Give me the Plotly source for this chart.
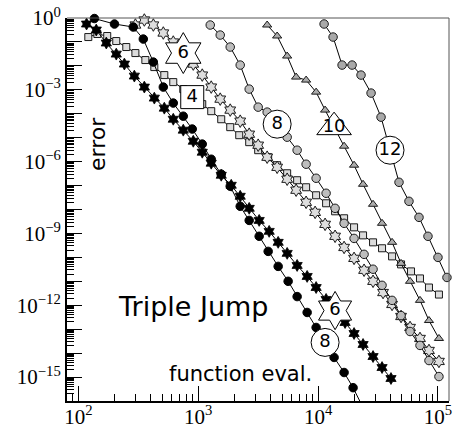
import numpy as np
import plotly.graph_objects as go

# ---- data (function evaluations vs. error) ----
# order 8, lower (black circles)
c8b_x = [136, 200, 287, 348, 422, 511, 619, 750, 891, 1080, 1283, 1555, 1848, 2239, 2661,
         3223, 3831, 4642, 5623, 6683, 8099, 9624, 11436, 13594, 16475, 19580, 23714]
c8b_y = [0.95, 0.56, 0.42, 0.132, 0.0144, 1.3e-3, 2.8e-4, 7.9e-5, 2.3e-5, 5.4e-6, 1.26e-6,
         3.0e-7, 9.4e-8, 1.36e-8, 3.5e-9, 7.6e-10, 1.78e-10, 4.2e-11, 1.0e-11, 2.3e-12,
         5.0e-13, 1.18e-13, 2.8e-14, 6.6e-15, 1.55e-15, 3.6e-16, 5.3e-17]

# order 6, lower (black stars)
s6b_x = [117, 141, 171, 207, 242, 293, 355, 430, 521, 619, 750, 909, 1080, 1283, 1555, 1884,
         2239, 2661, 3223, 3905, 4642, 5518, 6683, 8099, 9624, 11659, 13856, 16788, 19953,
         23714, 28729, 34145, 40551]
s6b_y = [0.56, 0.315, 0.090, 0.031, 0.0119, 3.74e-3, 1.3e-3, 4.5e-4, 1.71e-4, 5.9e-5, 2.06e-5,
         7.1e-6, 2.47e-6, 8.6e-7, 2.7e-7, 1.03e-7, 3.57e-8, 1.12e-8, 3.5e-9, 1.22e-9, 4.25e-10,
         1.47e-10, 4.6e-11, 1.6e-11, 5.5e-12, 1.75e-12, 6.0e-13, 1.9e-13, 6.6e-14, 2.3e-14,
         7.2e-15, 2.5e-15, 8.7e-16]

# order 4 (squares)
q4_x = [121, 144, 174, 207, 251, 299, 362, 430, 521, 619, 750, 891, 1080, 1283, 1555, 1848,
        2197, 2661, 3162, 3831, 4553, 5518, 6683, 7943, 9624, 11659, 13856, 16475, 19953,
        23714, 28729, 34145, 41400, 49204, 59560, 70795, 84140, 101900]
q4_y = [0.16, 0.214, 0.177, 0.109, 0.0612, 0.0343, 0.0175, 0.0089, 4.12e-3, 2.1e-3, 1.07e-3,
        4.95e-4, 2.52e-4, 1.28e-4, 5.9e-5, 2.75e-5, 1.27e-5, 6.5e-6, 3.0e-6, 1.53e-6, 7.1e-7,
        3.27e-7, 1.67e-7, 8.5e-8, 3.93e-8, 1.82e-8, 8.4e-9, 4.3e-9, 1.8e-9, 8.3e-10, 4.25e-10,
        2.4e-10, 1.1e-10, 5.1e-11, 2.6e-11, 1.32e-11, 5.5e-12, 2.8e-12]

# order 6, upper (light stars)
s6u_x = [299, 355, 422, 511, 619, 750, 909, 1080, 1283, 1525, 1848, 2239, 2661, 3162, 3758,
         4553, 5518, 6556, 7943, 9441, 11436, 13856, 16475, 19953, 24180, 28729, 34814, 41400,
         49204, 58480, 70795, 84140, 101900]
s6u_y = [0.509, 0.825, 0.509, 0.236, 0.099, 0.0343, 0.0119, 4.12e-3, 1.3e-3, 4.08e-4, 1.42e-4,
         4.9e-5, 1.4e-5, 4.86e-6, 1.53e-6, 5.8e-7, 1.84e-7, 6.4e-8, 2.0e-8, 7.6e-9, 2.4e-9,
         7.6e-10, 2.6e-10, 9.1e-11, 2.9e-11, 1.0e-11, 3.4e-12, 1.08e-12, 3.4e-13, 1.18e-13,
         4.1e-14, 1.29e-14, 4.5e-15]

# order 8, upper (gray circles)
c8u_x = [1259, 1525, 1848, 2239, 2661, 3162, 3758, 4553, 5518, 6683, 7943, 9624, 11659, 13856,
         16475, 19953, 24180, 28729, 34145, 41400, 49204, 58480, 70795, 84140, 101900]
c8u_y = [0.509, 0.194, 0.0612, 0.0108, 1.07e-3, 1.89e-4, 1.17e-4, 3.67e-5, 1.05e-5, 3.0e-6,
         7.8e-7, 2.02e-7, 4.77e-8, 1.12e-8, 2.65e-9, 6.2e-10, 1.34e-10, 3.2e-11, 6.8e-12,
         1.6e-12, 3.7e-13, 8.0e-14, 2.1e-14, 4.9e-15, 1.05e-15]

# order 10 (triangles)
t10_x = [3758, 4553, 5518, 6556, 7943, 9624, 11436, 13594, 16475, 19953, 23714, 28729, 34145,
         41400, 49204, 58480, 70795, 84140, 101900]
t10_y = [0.509, 0.177, 0.0257, 3.4e-3, 2.55e-3, 8.0e-4, 1.42e-4, 2.75e-5, 4.41e-6, 7.1e-7,
         1.13e-7, 1.65e-8, 2.65e-9, 4.25e-10, 5.6e-11, 1.0e-11, 1.6e-12, 2.3e-13, 4.1e-14]

# order 12 (gray circles)
c12_x = [11220, 13335, 15849, 19200, 22803, 27660, 33497, 39811, 47315, 57280, 69450, 82540,
         100000, 118850]
c12_y = [0.561, 0.16, 0.0108, 0.0108, 4.12e-3, 7.3e-4, 7.2e-5, 3.0e-6, 1.37e-7, 2.2e-8,
         4.7e-9, 7.6e-10, 1.0e-10, 1.45e-11]

# order labels
label_texts = ["6", "4", "8", "10", "12", "6", "8"]

x_tickvals = [1e2, 1e3, 1e4, 1e5]
x_ticktext = ["10<sup>2</sup>", "10<sup>3</sup>", "10<sup>4</sup>", "10<sup>5</sup>"]
y_exps = list(range(0, -17, -1))
y_label_exps = [0, -3, -6, -9, -12, -15]

YMIN_LOG = -16
XRANGE = [1.905, 5.092]

fig = go.Figure()

series = [
    (q4_x, q4_y, dict(symbol="square", size=7, color="#dcdcdc", line=dict(color="#1a1a1a", width=1))),
    (s6u_x, s6u_y, dict(symbol="hexagram", size=9.5, color="#dedede", line=dict(color="#1a1a1a", width=1))),
    (c8u_x, c8u_y, dict(symbol="circle", size=8.5, color="#bdbdbd", line=dict(color="#1a1a1a", width=1))),
    (t10_x, t10_y, dict(symbol="triangle-up", size=8, color="#acacac", line=dict(color="#1a1a1a", width=1))),
    (c12_x, c12_y, dict(symbol="circle", size=8.5, color="#a9a9a9", line=dict(color="#1a1a1a", width=1))),
    (s6b_x, s6b_y, dict(symbol="hexagram", size=9, color="black", line=dict(color="black", width=0.8))),
    (c8b_x, c8b_y, dict(symbol="circle", size=8.5, color="black", line=dict(color="black", width=1))),
]

for xs, ys, mk in series:
    fig.add_trace(go.Scatter(x=xs, y=ys, mode="lines",
                             line=dict(color="black", width=1), hoverinfo="skip", showlegend=False))
    xa = np.array(xs, dtype=float)
    ya = np.array(ys, dtype=float)
    keep = np.log10(ya) >= YMIN_LOG
    fig.add_trace(go.Scatter(x=xa[keep], y=ya[keep], mode="markers", marker=mk,
                             cliponaxis=False, showlegend=False))

labels = [
    (label_texts[0], s6u_x, s6u_y, 5, "hexagram", 31),
    (label_texts[1], q4_x, q4_y, 11, "square", 23),
    (label_texts[2], c8u_x, c8u_y, 7, "circle", 28),
    (label_texts[3], t10_x, t10_y, 7, "triangle-up", 30),
    (label_texts[4], c12_x, c12_y, 7, "circle", 28),
    (label_texts[5], s6b_x, s6b_y, 26, "hexagram", 29),
    (label_texts[6], c8b_x, c8b_y, 22, "circle", 28),
]
for txt, xs, ys, i, sym, sz in labels:
    fig.add_trace(go.Scatter(
        x=[xs[i]], y=[ys[i]], mode="markers+text", text=[txt], textposition="middle center",
        textfont=dict(family="DejaVu Sans", size=18, color="black"),
        marker=dict(symbol=sym, size=sz, color="white", line=dict(color="black", width=1)),
        cliponaxis=False, showlegend=False))

def minor_vals(lo, hi):
    out = []
    for e in range(lo, hi):
        for k in range(2, 10):
            out.append(k * 10.0 ** e)
    return out

# empty trace so that the overlay axes (minor ticks) exist
fig.add_trace(go.Scatter(x=[], y=[], xaxis="x2", yaxis="y2", showlegend=False, hoverinfo="skip"))

tick_common = dict(ticks="inside", tickwidth=1.3, tickcolor="black", showgrid=False, zeroline=False)

fig.update_layout(
    xaxis=dict(
        type="log", range=XRANGE, tickmode="array", tickvals=x_tickvals, ticktext=x_ticktext,
        ticklen=15, showline=True, linecolor="black", linewidth=2, ticklabelstandoff=-4,
        tickfont=dict(family="Liberation Serif", size=21, color="black"), **tick_common),
    yaxis=dict(
        type="log", range=[YMIN_LOG, 0], tickmode="array",
        tickvals=[10.0 ** e for e in y_exps],
        ticktext=[("10<sup>%s</sup>" % (str(e).replace("-", "\u2212"))) if e in y_label_exps else ""
                  for e in y_exps],
        ticklen=15, showline=True, linecolor="black", linewidth=2,
        tickfont=dict(family="Liberation Serif", size=21, color="black"), **tick_common),
    xaxis2=dict(
        type="log", range=XRANGE, overlaying="x", anchor="y2", side="bottom",
        tickmode="array", tickvals=minor_vals(1, 5), ticklen=7, showticklabels=False,
        showline=False, **tick_common),
    yaxis2=dict(
        type="log", range=[YMIN_LOG, 0], overlaying="y", anchor="x2", side="left",
        tickmode="array", tickvals=minor_vals(-16, 0), ticklen=7, showticklabels=False,
        showline=False, **tick_common),
)

fig.add_shape(type="line", xref="paper", yref="paper", x0=0, x1=1, y0=1, y1=1,
              line=dict(color="#555555", width=1))
fig.add_shape(type="line", xref="paper", yref="paper", x0=1, x1=1, y0=0, y1=1,
              line=dict(color="#555555", width=1))

fig.add_annotation(text="Triple Jump", xref="paper", yref="paper", x=0.33, y=0.248,
                   xanchor="center", yanchor="middle",
                   showarrow=False, font=dict(family="DejaVu Sans", size=27, color="black"))
fig.add_annotation(text="function eval.", xref="paper", yref="paper", x=0.455, y=0.07,
                   xanchor="center", yanchor="middle",
                   showarrow=False, font=dict(family="DejaVu Sans", size=21, color="black"))
fig.add_annotation(text="error", xref="paper", yref="paper", x=0.0785, y=0.671, textangle=-90,
                   xanchor="center", yanchor="middle",
                   showarrow=False, font=dict(family="DejaVu Sans", size=22, color="black"))

fig.update_layout(
    width=459, height=428,
    margin=dict(l=67, r=10, t=18, b=27, autoexpand=False),
    plot_bgcolor="white", paper_bgcolor="white",
    showlegend=False,
)

fig.write_html("out.html", config={"displayModeBar": False},
               post_script="document.body.style.margin='0';document.body.style.overflow='hidden';")
